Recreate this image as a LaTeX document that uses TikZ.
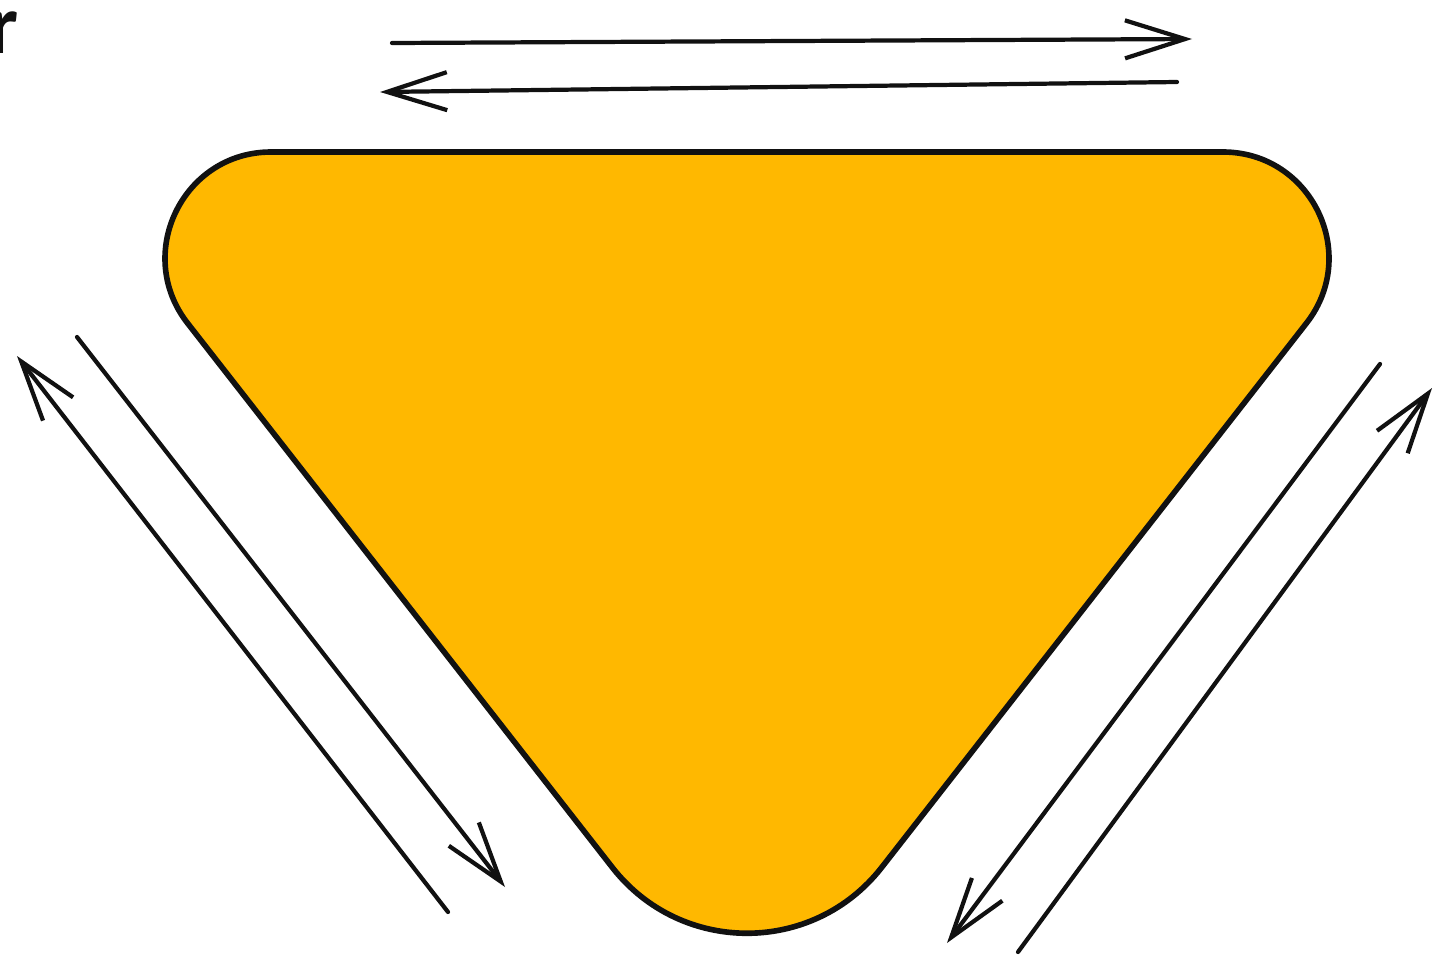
\documentclass[tikz,border=0pt]{standalone}
\usepackage{fontspec}
\usetikzlibrary{arrows.meta}
\newfontfamily\sketchfont{Carlito}
\definecolor{CycleAmber}{HTML}{FFB800}
\definecolor{SketchInk}{HTML}{111111}

\begin{document}
\begin{tikzpicture}[
  x=0.01cm, y=-0.01cm,
  line cap=round,
  line join=round,
  >={Straight Barb[length=6mm,width=3.8mm]},
  flow arrow/.style={draw=SketchInk,line width=1.2pt,->},
  sketch outline/.style={draw=SketchInk,line width=1.6pt,fill=CycleAmber},
  edge text/.style={anchor=base west,inner sep=0pt,text=SketchInk}
]
\useasboundingbox (0,0) rectangle (1433,954);

% Cut-off letter at the top left edge.
\node[edge text,font=\sketchfont\bfseries\fontsize{24}{24}\selectfont] (cutletter) at (-12,53) {r};

% Rounded triangle: straight sides joined by near-circular corners
% (top corners radius ~106, bottom corner radius ~171).
\draw[sketch outline]
  (271,152) -- (1223,152)
  .. controls (1311,152) and (1360.6,253.7) .. (1306.5,323.1)
  -- (881.7,867.4)
  .. controls (813.2,955.2) and (680.8,955.2) .. (612.3,867.4)
  -- (187.5,323.1)
  .. controls (133.4,253.7) and (183,152) .. (271,152) -- cycle;

% End points of the six arrows (two along each side).
\coordinate (top out start) at (392,43);
\coordinate (top out end)   at (1192,39);
\coordinate (top back start) at (1177,82);
\coordinate (top back end)   at (380,92);

\coordinate (left up start) at (448,912);
\coordinate (left up end)   at (17,356);
\coordinate (left down start) at (77,337);
\coordinate (left down end)   at (505,887);

\coordinate (right down start) at (1380,364);
\coordinate (right down end)   at (947,943);
\coordinate (right up start) at (1018,952);
\coordinate (right up end)   at (1432,388);

% Arrows.
\draw[flow arrow] (top out start) -- (top out end);
\draw[flow arrow] (top back start) -- (top back end);
\draw[flow arrow] (left up start) -- (left up end);
\draw[flow arrow] (left down start) -- (left down end);
\draw[flow arrow] (right down start) -- (right down end);
\draw[flow arrow] (right up start) -- (right up end);

\end{tikzpicture}
\end{document}
